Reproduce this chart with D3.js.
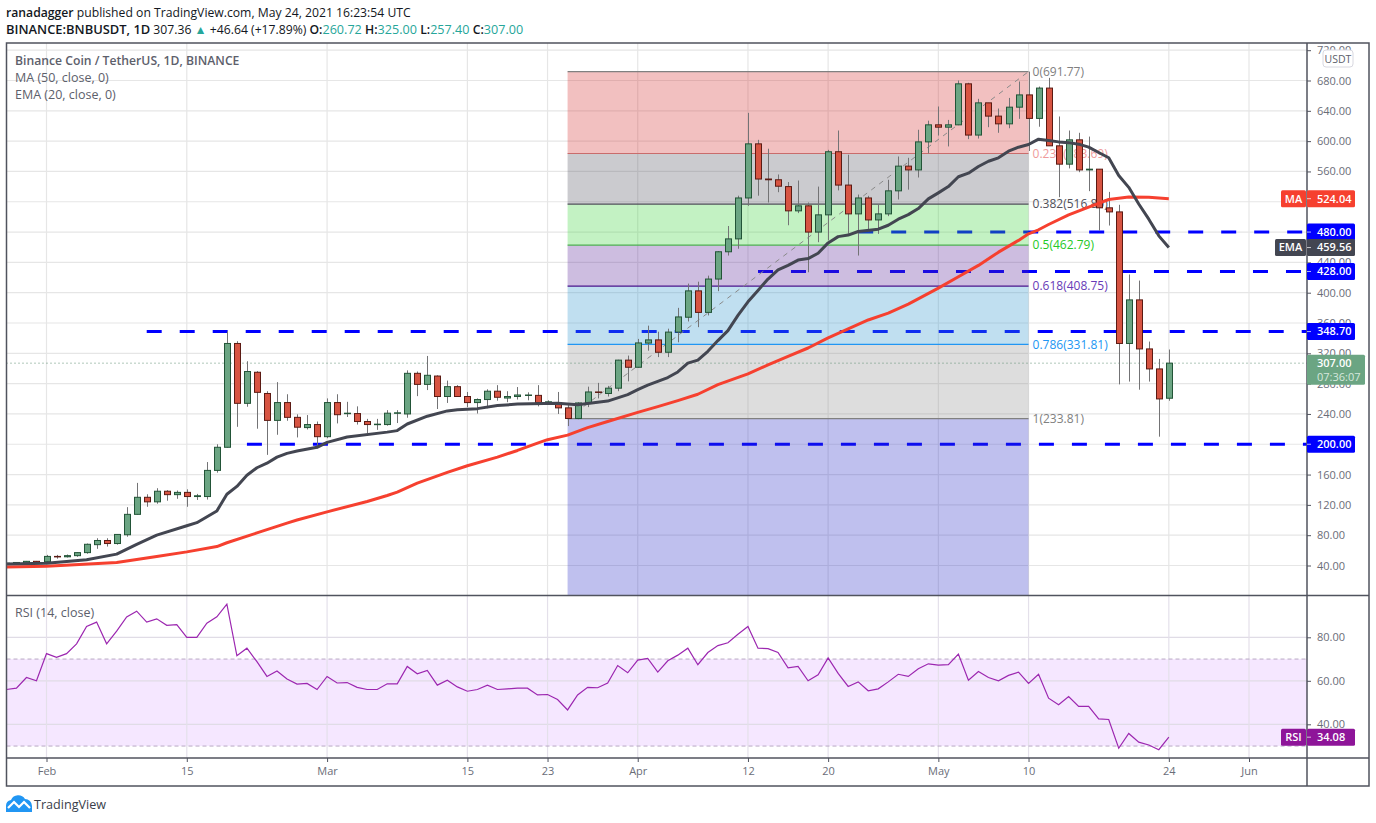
<!DOCTYPE html>
<html>
<head>
<meta charset="utf-8">
<script src="https://cdnjs.cloudflare.com/ajax/libs/d3/7.8.5/d3.min.js"></script>
<style>
html, body { margin: 0; padding: 0; background: #fff; }
svg { display: block; }
text { font-family: "Open Sans", sans-serif; }
</style>
</head>
<body>
<svg id="chart" width="1376" height="823"></svg>
<script>
// one candle a day, 28 Jan to 24 May 2021
const opens = [42.5,42,43,45.5,45,52,51.5,53,57,67.5,73,69,80.6,107.5,130,124,138,133.5,136.5,131,131,165.5,196,333,254,295,267,231.5,255,235.5,222,226,
    210,255,240.5,240.5,230,226,226,241,240,293.6,279,290,263,276,263,255,259,270,261,263,264.5,264.5,255,255,248,234,254.5,269,267,274,311,
    301.6,333.5,337.7,321.4,348,367.6,402.4,374,418,454,471,525,596.4,550,549,540,508,514.6,480,502.7,586,542,504,525,496,504,534.4,567,562,599,
    621.5,618.4,621.5,675.6,608,650.5,633,622.8,644.8,661,630,670,593.8,569.6,601.7,562,563,512,506.6,333,390.5,325.8,299.4,260.72]
const closes = [43,44,45.5,43.5,52,51.5,53,57,68,73,69,81,107.5,130,124,138,133.5,136.5,131,132,165.5,196,333,254,296,268.5,231.5,255,235.5,222.5,226,210,
    255,239,241,230,226,226.5,241,241.5,293.6,279,291,263,276,263,255,259,270,262,263,265,265,255,256,248,234,254.5,269,268.5,274,311,301.6,
    333.7,337.7,321.4,348,368,402.4,374,418,454,471,525,596.4,550,549,540.5,508,514.6,480,502.7,586,542,504,525,496,504,534.4,567,562,599,621.5,
    618.4,621.5,675.6,608,650.5,633,622.8,644.8,661,630,670,593.8,569.6,601.7,562,563,512,506.6,333,390.5,325.8,299.4,259.8,307]
const highs = [43.5,44.5,46,46,54,54,54.5,57.5,69,76,76,81.5,117,149,134,142,139.5,139,140.5,134.5,176.5,200,349,336,309.5,296.5,270,282,266,239.5,238.5,230,
    260.5,266,256,250,233.5,233.5,245,245,297.5,296,316.5,291,284,278,269,260.5,272.5,278,270,275.5,268.5,278,258,269,254,255.5,276,281,277,311.5,317,
    339,356.5,348.5,352.5,380,412,414.5,422.5,455,488,528,637.3,601.7,590,556,546,548,519,540,588.5,614,582,529.5,527.8,517,549,579.7,578,615,627,
    645.7,628,680,677,655.8,650.5,643,657,678.7,691.77,672,683.5,632.5,614,611,606,563,533,516,424,416,335.5,312.6,325]
const lows = [41.5,41.5,42.5,42.5,43.5,49,50.5,51.5,55.5,62,65,67.5,78,107,117.5,121.5,125.5,128,117.5,126.5,127,162.5,195.5,223,249.5,220.5,186,212.5,231,209,219.5,194.5,
    208,227.5,236,226,214.5,219,224.5,228,235,263.5,271.5,246.5,254.5,263,249,240.5,247.5,257.5,255.5,259,258,250,252,240,224,233,249,260.5,263,270,283,
    301,323.5,315,315,334.5,362,354.5,370,402,449,458,514.6,528,519,532.6,489,505,427,466.6,469,535,477.6,449,480.7,477.6,501,523,536,552,584,
    607.4,593,621,602.6,603.4,618.4,611,617,629.4,587,619,593.8,526,564,559,534,482,488.6,279,282.7,272,282.7,210,257.4]

// MA(50) and EMA(20)
const maDates = ['01-28','02-01','02-08','02-12','02-15','02-18','02-19','02-22','02-25','02-26','03-01','03-05','03-07','03-08','03-10','03-13','03-15','03-18','03-20','03-22','03-23','03-25','03-27','03-29',
    '04-01','04-03','04-05','04-07','04-09','04-12','04-14','04-16','04-18','04-20','04-22','04-24','04-26','04-28','05-01','05-03','05-05','05-07','05-09','05-10','05-11','05-12','05-14','05-16','05-18','05-20','05-22','05-24']
const maValues = [38,39,44,52,58,65,70,83,96,100,110.8,124.5,132.4,136.8,148.7,162.8,171.6,183,191.8,201.5,206,212,222,230,
    242,249.7,257.6,266,278.7,292.8,304.7,316,327,340.4,352.3,364,373,385,406,421,436,453.5,469,477.7,483,490,502.7,513,523,526.4,526,524.04]
const emaDates = ['01-28','02-01','02-05','02-08','02-10','02-12','02-15','02-16','02-18','02-19','02-20','02-21','02-22','02-23','02-24','02-25','02-26','02-28','03-01','03-03','03-07','03-08','03-09','03-11','03-13','03-14','03-16','03-18','03-20','03-24','03-26','03-29','03-31',
    '04-01','04-02','04-03','04-04','04-05','04-06','04-07','04-08','04-09','04-10','04-11','04-12','04-13','04-14','04-15','04-16','04-17','04-18','04-19','04-20','04-21','04-22','04-23','04-25','04-26','04-27','04-28','04-29','04-30',
    '05-01','05-02','05-03','05-04','05-05','05-06','05-07','05-08','05-09','05-10','05-11','05-12','05-13','05-14','05-15','05-16','05-17','05-18','05-19','05-20','05-21','05-22','05-23','05-24']
const emaValues = [42,43,47.6,55,68,80,92.5,96.5,112,134,144.4,159,169,175,183,188,191,196,202.5,209.6,216,218,226.7,237,244,245.6,247,251,253,254,252,257,265.5,
    272,278,283,288,295.4,307,311,322.7,336.8,350,370,388,403,418,430,436,443,445,452,465.7,474,476,480.7,483.8,489,497,503,511,523.8,
    531.7,540,553,557.7,566.5,573.5,578,586.7,592,595.5,602.6,600.8,599,598,596,592,585,578,554.6,539,517,497,475,459.56]

// RSI(14), one value a day
const rsiValues = [56,56.6,61.5,60,72.5,70.8,72.5,77,85,87,77,82.8,89.4,92,87,88.5,85.5,85.8,80,80,86.5,89.4,95.2,71.5,75,68.8,62,64.5,60.8,58.5,58.8,56,
    62,59,59.2,57,56,56,58.6,58.6,66.6,63.2,64.8,58,60.3,57.2,55.2,56,58,56,56.3,56.6,56.6,53.5,53.7,51.4,46.6,53.5,57,56.8,59,67,63.7,
    69.5,70.3,64,69.2,71.8,75,67.4,73,76.2,77.5,81.4,85,75,74.8,73,66,66.6,60,62.8,70.5,63.4,57.4,59.5,55.4,56.3,59.5,63,62,65.5,67.8,
    67.2,67.4,72.3,60.3,64.3,61.5,60,62.5,64,58.8,63,52,49,52.8,48.2,48.2,42.5,42.2,29,35.8,31.8,30.5,28.3,34.08]

const fibRatios = ['0','0.236','0.382','0.5','0.618','0.786','1']
const fibLevels = [691.77,583.69,516.8,462.79,408.75,331.81,233.81]
const fibLineColors = ['#808080','#c96c6c','#50505a','#4caf50','#4a148c','#2196f3','#808080']
const fibTextColors = ['#808080','#ef9a9a','#50505a','#26c926','#673ab7','#2196f3','#808080']
const fibFillColors = ['rgb(212,45,45)','rgb(82,82,95)','rgb(55,212,55)','rgb(88,35,152)','rgb(48,148,205)','rgb(142,142,142)','rgb(42,45,198)']

const levelValues = [348.70,428,480,200]
const levelStarts = ['2021-02-11','2021-04-13','2021-04-23','2021-02-21']

const priceTicks = d3.range(40, 721, 40)
const hiddenPriceLabels = [200,480,520]   // fully covered by the tags in the original
const rsiTicks = [40,60,80]
const xTickDates = ['2021-02-01','2021-02-15','2021-03-01','2021-03-15','2021-03-23','2021-04-01','2021-04-12','2021-04-20','2021-05-01','2021-05-10','2021-05-24','2021-06-01']
const xTickLabels = ['Feb','15','Mar','15','23','Apr','12','20','May','10','24','Jun']

const utc = d3.utcParse('%Y-%m-%d')
const days = d3.utcDay.range(utc('2021-01-28'), utc('2021-05-25'))
const fullDate = s => utc('2021-' + s)

const candles = days.map((d, i) => ({date: d, o: opens[i], h: highs[i], l: lows[i], c: closes[i]}))
const tickDates = xTickDates.map(utc)

// pane box
const paneLeft = 6.5, paneRight = 1307, paneTop = 43, priceBottom = 595.5, rsiBottom = 758, frameRight = 1369, frameBottom = 786

const x = d3.scaleUtc().domain([utc('2021-02-01'), utc('2021-06-01')]).range([46.5, 1249])
const y = d3.scaleLinear().domain([40, 680]).range([565.5, 80.5])
const yRsi = d3.scaleLinear().domain([40, 80]).range([724.3, 637.3])

const svg = d3.select('#chart')
const defs = svg.append('defs')
defs.append('clipPath').attr('id', 'priceClip').append('rect')
    .attr('x', paneLeft).attr('y', paneTop).attr('width', paneRight - paneLeft).attr('height', priceBottom - paneTop)
defs.append('clipPath').attr('id', 'rsiClip').append('rect')
    .attr('x', paneLeft).attr('y', priceBottom).attr('width', paneRight - paneLeft).attr('height', rsiBottom - priceBottom)

// header lines
const head1 = svg.append('text').attr('x', 6).attr('y', 17).attr('font-size', 12.2).attr('fill', '#131722')
head1.append('tspan').attr('font-weight', 600).text('ranadagger')
head1.append('tspan').text(' published on TradingView.com, May 24, 2021 16:23:54 UTC')

const head2 = svg.append('text').attr('x', 6).attr('y', 34).attr('font-size', 12.2).attr('fill', '#131722')
head2.append('tspan').attr('font-weight', 600).attr('font-size', 12.9).text('BINANCE:BNBUSDT, 1D')
head2.append('tspan').text('  307.36 ')
head2.append('tspan').attr('fill', '#26a69a').text('▲')
head2.append('tspan').text(' +46.64 (+17.89%) ')
const ohlcLabels = ['O:', 'H:', 'L:', 'C:']
const ohlcValues = ['260.72', '325.00', '257.40', '307.00']
ohlcLabels.forEach((l, i) => {
    head2.append('tspan').attr('font-weight', 600).text(l)
    head2.append('tspan').attr('fill', '#26a69a').attr('font-size', 12.6).text(ohlcValues[i] + ' ')
})

// price pane
const price = svg.append('g').attr('clip-path', 'url(#priceClip)')

price.selectAll('.hgrid').data(priceTicks).enter().append('line')
    .attr('x1', paneLeft).attr('x2', paneRight).attr('y1', d => y(d)).attr('y2', d => y(d))
    .attr('stroke', '#e6e6e6').attr('stroke-width', 1.2)
price.selectAll('.vgrid').data(tickDates).enter().append('line')
    .attr('x1', d => x(d)).attr('x2', d => x(d)).attr('y1', paneTop).attr('y2', priceBottom)
    .attr('stroke', '#e6e6e6').attr('stroke-width', 1.2)

// support and resistance dashes
price.selectAll('.level').data(levelValues).enter().append('line')
    .attr('x1', (d, i) => x(utc(levelStarts[i]))).attr('x2', paneRight)
    .attr('y1', d => y(d)).attr('y2', d => y(d))
    .attr('stroke', '#0000ff').attr('stroke-width', 3).attr('stroke-dasharray', '15 18')

// fib zones
const fibStart = utc('2021-03-25'), fibEnd = utc('2021-05-10')
const fibTops = fibLevels
const fibBottoms = fibLevels.slice(1).concat([y.invert(priceBottom)])
price.selectAll('.fibzone').data(fibTops).enter().append('rect')
    .attr('x', x(fibStart)).attr('width', x(fibEnd) - x(fibStart))
    .attr('y', d => y(d)).attr('height', (d, i) => y(fibBottoms[i]) - y(d))
    .attr('fill', (d, i) => fibFillColors[i]).attr('fill-opacity', 0.3)
price.selectAll('.fibline').data(fibLevels).enter().append('line')
    .attr('x1', x(fibStart)).attr('x2', x(fibEnd)).attr('y1', d => y(d)).attr('y2', d => y(d))
    .attr('stroke', (d, i) => fibLineColors[i]).attr('stroke-width', 1.2)
price.selectAll('.fibtext').data(fibLevels).enter().append('text')
    .attr('x', x(fibEnd) + 4).attr('y', d => y(d)).attr('dy', '0.35em')
    .attr('font-size', 12).attr('fill', (d, i) => fibTextColors[i])
    .text((d, i) => `${fibRatios[i]}(${d3.format('.2f')(d)})`)
price.append('line')
    .attr('x1', x(fibStart)).attr('y1', y(233.81)).attr('x2', x(fibEnd)).attr('y2', y(691.77))
    .attr('stroke', '#8a8a8a').attr('stroke-width', 1).attr('stroke-dasharray', '5 5')

// last price dots
price.append('line').attr('x1', paneLeft).attr('x2', paneRight).attr('y1', y(307)).attr('y2', y(307))
    .attr('stroke', '#5e8f74').attr('stroke-width', 1).attr('stroke-dasharray', '1 3')

// candles
const upFill = '#6ba583', upEdge = '#225437', downFill = '#d75442', downEdge = '#5b1a13'
const cx = d => Math.round(x(d.date)) + 0.5
const candle = price.selectAll('.candle').data(candles).enter().append('g')
candle.append('line')
    .attr('x1', cx).attr('x2', cx).attr('y1', d => y(d.h)).attr('y2', d => y(d.l))
    .attr('stroke', '#737375').attr('stroke-width', 1)
candle.append('rect')
    .attr('x', d => cx(d) - 3).attr('width', 6)
    .attr('y', d => y(Math.max(d.o, d.c)))
    .attr('height', d => Math.max(0.5, Math.abs(y(d.o) - y(d.c))))
    .attr('fill', d => d.c >= d.o ? upFill : downFill)
    .attr('stroke', d => d.c >= d.o ? upEdge : downEdge)
    .attr('stroke-width', 1)

// moving averages
const priceLine = d3.line().x(d => x(d[0])).y(d => y(d[1]))
price.append('path')
    .attr('d', priceLine(maDates.map((d, i) => [fullDate(d), maValues[i]])))
    .attr('fill', 'none').attr('stroke', '#f6402f').attr('stroke-width', 3).attr('stroke-linejoin', 'round')
price.append('path')
    .attr('d', priceLine(emaDates.map((d, i) => [fullDate(d), emaValues[i]])))
    .attr('fill', 'none').attr('stroke', '#434651').attr('stroke-width', 3).attr('stroke-linejoin', 'round')

// legend
const legendLines = ['Binance Coin / TetherUS, 1D, BINANCE', 'MA (50, close, 0)', 'EMA (20, close, 0)']
svg.selectAll('.legend').data(legendLines).enter().append('text')
    .attr('x', 15).attr('y', (d, i) => 65 + i * 17)
    .attr('font-size', (d, i) => i == 0 ? 12.2 : 12.5).attr('font-weight', (d, i) => i == 0 ? 600 : 400)
    .attr('fill', '#5d606b').text(d => d)

// rsi pane
const rsi = svg.append('g').attr('clip-path', 'url(#rsiClip)')
rsi.append('rect')
    .attr('x', paneLeft).attr('width', paneRight - paneLeft)
    .attr('y', yRsi(70)).attr('height', yRsi(30) - yRsi(70))
    .attr('fill', '#9915ff').attr('fill-opacity', 0.1)
rsi.selectAll('.hgrid').data(rsiTicks).enter().append('line')
    .attr('x1', paneLeft).attr('x2', paneRight).attr('y1', d => yRsi(d)).attr('y2', d => yRsi(d))
    .attr('stroke', '#e0dce6').attr('stroke-width', 1.2)
rsi.selectAll('.vgrid').data(tickDates).enter().append('line')
    .attr('x1', d => x(d)).attr('x2', d => x(d)).attr('y1', priceBottom).attr('y2', rsiBottom)
    .attr('stroke', '#e4e0ea').attr('stroke-width', 1.2)
rsi.selectAll('.band').data([70, 30]).enter().append('line')
    .attr('x1', paneLeft).attr('x2', paneRight).attr('y1', d => yRsi(d)).attr('y2', d => yRsi(d))
    .attr('stroke', '#b8a8c4').attr('stroke-width', 1).attr('stroke-dasharray', '4 3')
rsi.append('path')
    .attr('d', d3.line().x((d, i) => x(days[i])).y(d => yRsi(d))(rsiValues))
    .attr('fill', 'none').attr('stroke', '#9c27b0').attr('stroke-width', 1.2)
svg.append('text').attr('x', 15).attr('y', 617).attr('font-size', 12.5).attr('fill', '#5d606b').text('RSI (14, close)')

// axes
const priceLabel = d => hiddenPriceLabels.includes(d) ? '' : d3.format('.2f')(d)
const priceAxis = svg.append('g').attr('transform', `translate(${paneRight},0)`)
    .call(d3.axisRight(y).tickValues(priceTicks).tickFormat(priceLabel).tickSize(4).tickPadding(6))
const rsiAxis = svg.append('g').attr('transform', `translate(${paneRight},0)`)
    .call(d3.axisRight(yRsi).tickValues(rsiTicks).tickFormat(d3.format('.2f')).tickSize(4).tickPadding(6))
const timeAxis = svg.append('g').attr('transform', `translate(0,${rsiBottom})`)
    .call(d3.axisBottom(x).tickValues(tickDates).tickFormat((d, i) => xTickLabels[i]).tickSize(4).tickPadding(5))
svg.selectAll('.domain').remove()
svg.selectAll('.tick text').attr('font-family', '"Open Sans", sans-serif').attr('font-size', 11).attr('fill', '#6a6d78')
svg.selectAll('.tick line').attr('stroke', '#50535e')

// pane frame
const frame = svg.append('g').attr('fill', 'none').attr('stroke', '#50535e').attr('stroke-width', 1.5)
frame.append('rect').attr('x', paneLeft).attr('y', paneTop).attr('width', frameRight - paneLeft).attr('height', frameBottom - paneTop)
frame.append('line').attr('x1', paneLeft).attr('x2', frameRight).attr('y1', priceBottom).attr('y2', priceBottom)
frame.append('line').attr('x1', paneLeft).attr('x2', frameRight).attr('y1', rsiBottom).attr('y2', rsiBottom)
frame.append('line').attr('x1', paneRight).attr('x2', paneRight).attr('y1', paneTop).attr('y2', frameBottom)

// unit badge
svg.append('rect').attr('x', 1323).attr('y', 50).attr('width', 30).attr('height', 17).attr('rx', 3)
    .attr('fill', '#fff').attr('stroke', '#d8d8e0')
svg.append('text').attr('x', 1338).attr('y', 62.5).attr('text-anchor', 'middle').attr('font-size', 10.5).attr('fill', '#5d606b').text('USDT')

// value tags on the price axis
function valueTag(yPos, text, fill) {
    svg.append('rect').attr('x', paneRight).attr('y', yPos - 8.5).attr('width', 48).attr('height', 17).attr('rx', 1.5).attr('fill', fill)
    svg.append('line').attr('x1', paneRight).attr('x2', paneRight + 4).attr('y1', yPos).attr('y2', yPos).attr('stroke', '#fff').attr('stroke-opacity', 0.7)
    svg.append('text').attr('x', paneRight + 10).attr('y', yPos).attr('dy', '0.35em').attr('font-size', 11).attr('font-weight', 600).attr('fill', '#fff').text(text)
}
function nameTag(yPos, text, fill, width) {
    svg.append('rect').attr('x', paneRight - width - 1).attr('y', yPos - 8.5).attr('width', width).attr('height', 17).attr('rx', 1.5).attr('fill', fill)
    svg.append('text').attr('x', paneRight - 1 - width / 2).attr('y', yPos).attr('dy', '0.35em').attr('text-anchor', 'middle')
        .attr('font-size', 11).attr('font-weight', 600).attr('fill', '#fff').text(text)
}

levelValues.forEach(v => valueTag(y(v), d3.format('.2f')(v), '#0000ff'))
const maLast = maValues[maValues.length - 1], emaLast = emaValues[emaValues.length - 1], rsiLast = rsiValues[rsiValues.length - 1]
valueTag(y(emaLast), d3.format('.2f')(emaLast), '#434651')
nameTag(y(emaLast), 'EMA', '#434651', 31)
valueTag(y(maLast), d3.format('.2f')(maLast), '#f6402f')
nameTag(y(maLast), 'MA', '#f6402f', 25)
valueTag(yRsi(rsiLast), d3.format('.2f')(rsiLast), '#8e1599')
nameTag(yRsi(rsiLast), 'RSI', '#8e1599', 25)

// last price tag with countdown
svg.append('rect').attr('x', paneRight).attr('y', y(307) - 8.5).attr('width', 58).attr('height', 30).attr('rx', 1.5).attr('fill', '#6ba583')
svg.append('text').attr('x', paneRight + 10).attr('y', y(307)).attr('dy', '0.35em').attr('font-size', 11).attr('font-weight', 600).attr('fill', '#fff').text('307.00')
svg.append('text').attr('x', paneRight + 10).attr('y', y(307) + 14).attr('dy', '0.35em').attr('font-size', 11).attr('fill', '#d6e8dd').text('07:36:07')

// logo
const logo = svg.append('g').attr('transform', 'translate(6,795)')
logo.append('path').attr('d', 'M0 17 V11 A6 6 0 0 1 5 5 A8 8 0 0 1 19 4 A7 7 0 0 1 26 11 V17 Z').attr('fill', '#2196f3')
logo.append('path').attr('d', 'M2 13 L8 7 L13 12 L18 7 L24 13').attr('fill', 'none').attr('stroke', '#fff').attr('stroke-width', 2.2)
svg.append('text').attr('x', 34).attr('y', 809).attr('font-size', 12.6).attr('fill', '#3a3e4a').text('TradingView')
</script>
</body>
</html>
